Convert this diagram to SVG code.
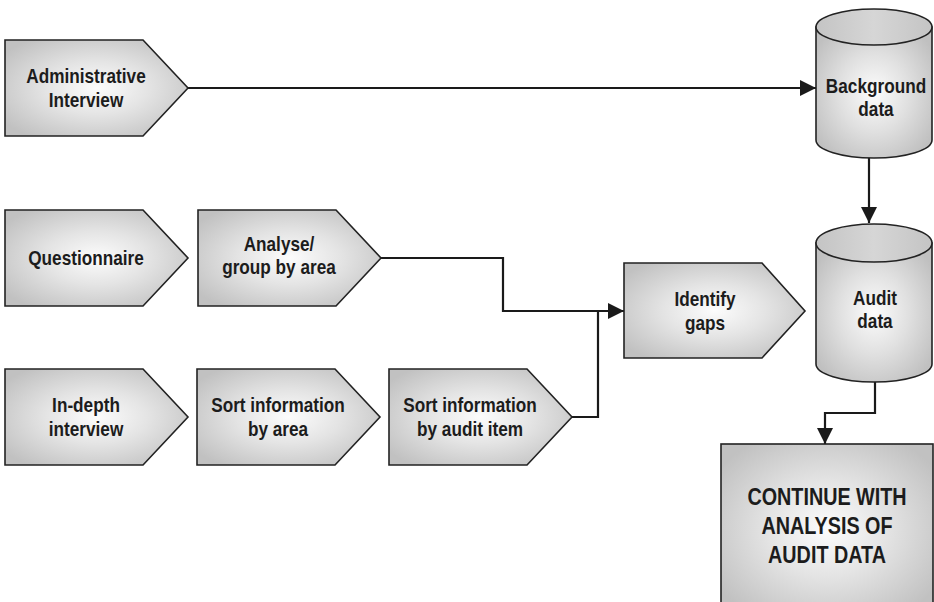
<svg xmlns="http://www.w3.org/2000/svg" width="934" height="602" viewBox="0 0 934 602">
  <defs>
    <radialGradient id="glow" cx="0.5" cy="0.5" r="0.62">
      <stop offset="0" stop-color="#fcfcfc"/>
      <stop offset="0.45" stop-color="#e4e4e4"/>
      <stop offset="1" stop-color="#c1c1c1"/>
    </radialGradient>
    <radialGradient id="glowCyl" cx="0.5" cy="0.5" r="0.6">
      <stop offset="0" stop-color="#fcfcfc"/>
      <stop offset="0.5" stop-color="#e0e0e0"/>
      <stop offset="1" stop-color="#c0c0c0"/>
    </radialGradient>
    <linearGradient id="capFill" x1="0" y1="0" x2="1" y2="0">
      <stop offset="0" stop-color="#c4c4c4"/>
      <stop offset="0.5" stop-color="#d6d6d6"/>
      <stop offset="1" stop-color="#c4c4c4"/>
    </linearGradient>
    <marker id="arrowBig" viewBox="0 0 10 10" refX="10" refY="5" markerWidth="16" markerHeight="16" markerUnits="userSpaceOnUse" orient="auto">
      <path d="M0,0 L10,5 L0,10 Z" fill="#1a1a1a"/>
    </marker>
  </defs>
  <style>
    .shape { fill: url(#glow); stroke: #222; stroke-width: 1.6; }
    .cyl { fill: url(#glowCyl); stroke: #222; stroke-width: 1.6; }
    .cap { fill: url(#capFill); stroke: #222; stroke-width: 1.6; }
    .label { font-family: "Liberation Sans", Arial, sans-serif; font-weight: bold; font-size: 20px; fill: #1c1c1c; text-anchor: middle; }
    .big { font-size: 23px; }
    .wire { fill: none; stroke: #1a1a1a; stroke-width: 2.2; }
  </style>

  <rect width="934" height="602" fill="#ffffff"/>

  <!-- connectors -->
  <g id="connectors">
    <path class="wire" d="M188,88 H816" marker-end="url(#arrowBig)"/>
    <path class="wire" d="M869,158 V223" marker-end="url(#arrowBig)"/>
    <path class="wire" d="M381,258 H503 V311 H624" marker-end="url(#arrowBig)"/>
    <path class="wire" d="M572,417 H598 V311"/>
    <path class="wire" d="M875,382 V413 H825 V444" marker-end="url(#arrowBig)"/>
  </g>

  <!-- process steps -->
  <g id="administrative-interview">
    <path class="shape" d="M5,40 H143 L188,88 L143,136 H5 Z"/>
    <g transform="translate(86,0) scale(0.86,1)">
      <text class="label" x="0" y="83">Administrative</text>
      <text class="label" x="0" y="107">Interview</text>
    </g>
  </g>

  <g id="questionnaire">
    <path class="shape" d="M5,210 H143 L188,258 L143,306 H5 Z"/>
    <g transform="translate(86,0) scale(0.86,1)">
      <text class="label" x="0" y="265">Questionnaire</text>
    </g>
  </g>

  <g id="analyse-group">
    <path class="shape" d="M198,210 H336 L381,258 L336,306 H198 Z"/>
    <g transform="translate(279,0) scale(0.86,1)">
      <text class="label" x="0" y="251">Analyse/</text>
      <text class="label" x="0" y="274">group by area</text>
    </g>
  </g>

  <g id="in-depth-interview">
    <path class="shape" d="M5,369 H143 L188,417 L143,465 H5 Z"/>
    <g transform="translate(86,0) scale(0.86,1)">
      <text class="label" x="0" y="412">In-depth</text>
      <text class="label" x="0" y="436">interview</text>
    </g>
  </g>

  <g id="sort-by-area">
    <path class="shape" d="M197,369 H335 L380,417 L335,465 H197 Z"/>
    <g transform="translate(278,0) scale(0.86,1)">
      <text class="label" x="0" y="412">Sort information</text>
      <text class="label" x="0" y="436">by area</text>
    </g>
  </g>

  <g id="sort-by-audit-item">
    <path class="shape" d="M389,369 H527 L572,417 L527,465 H389 Z"/>
    <g transform="translate(470,0) scale(0.86,1)">
      <text class="label" x="0" y="412">Sort information</text>
      <text class="label" x="0" y="436">by audit item</text>
    </g>
  </g>

  <g id="identify-gaps">
    <path class="shape" d="M624,263 H762 L805,311 L762,358 H624 Z"/>
    <g transform="translate(705,0) scale(0.86,1)">
      <text class="label" x="0" y="306">Identify</text>
      <text class="label" x="0" y="330">gaps</text>
    </g>
  </g>

  <!-- data stores -->
  <g id="background-data">
    <path class="cyl" d="M816,27 V140 A58,18 0 0 0 932,140 V27 Z"/>
    <ellipse class="cap" cx="874" cy="27" rx="58" ry="18"/>
    <g transform="translate(876,0) scale(0.86,1)">
      <text class="label" x="0" y="93">Background</text>
      <text class="label" x="0" y="116">data</text>
    </g>
  </g>

  <g id="audit-data">
    <path class="cyl" d="M816,243 V364 A58,18 0 0 0 932,364 V243 Z"/>
    <ellipse class="cap" cx="874" cy="243" rx="58" ry="19"/>
    <g transform="translate(875,0) scale(0.86,1)">
      <text class="label" x="0" y="305">Audit</text>
      <text class="label" x="0" y="328">data</text>
    </g>
  </g>

  <!-- final step -->
  <g id="continue-analysis">
    <rect class="shape" x="721" y="444" width="212" height="170"/>
    <g transform="translate(827,0) scale(0.86,1)">
      <text class="label big" x="0" y="505">CONTINUE WITH</text>
      <text class="label big" x="0" y="534">ANALYSIS OF</text>
      <text class="label big" x="0" y="563">AUDIT DATA</text>
    </g>
  </g>
</svg>
